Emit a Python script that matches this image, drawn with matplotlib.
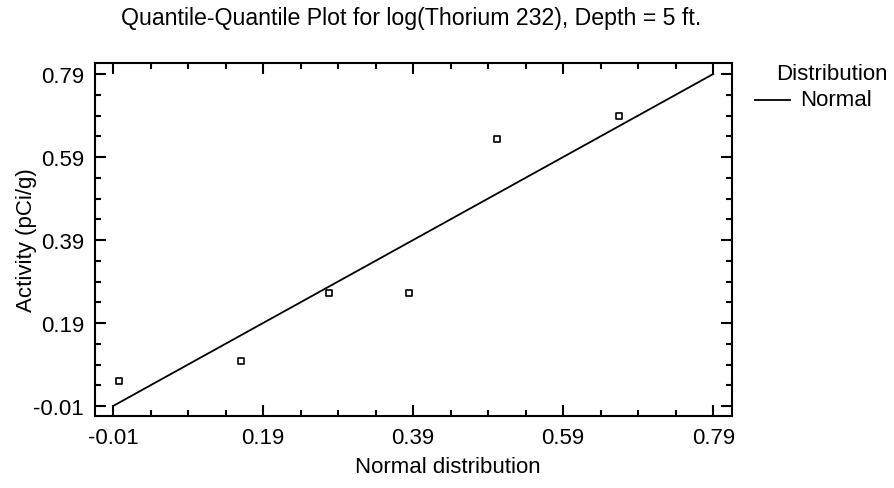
import matplotlib
matplotlib.use("Agg")
import matplotlib.pyplot as plt
from matplotlib.ticker import FixedLocator

plt.rcParams['font.family'] = ['Liberation Sans', 'DejaVu Sans']

x_quantiles = [-0.002, 0.161, 0.278, 0.385, 0.502, 0.665]
y_activity = [0.050, 0.098, 0.262, 0.262, 0.633, 0.689]
line_x = [-0.01, 0.79]
line_y = [-0.01, 0.79]
ticks = [-0.01, 0.19, 0.39, 0.59, 0.79]
tick_labels = ["-0.01", "0.19", "0.39", "0.59", "0.79"]

W, H = 895, 489
fig = plt.figure(figsize=(W/100, H/100), dpi=100)
ax = fig.add_axes([95/W, 1-417/H, (732-95)/W, (417-64)/H])

ax.plot(line_x, line_y, color='black', lw=1.3)
ax.scatter(x_quantiles, y_activity, marker='s', s=14, facecolors='white',
           edgecolors='black', linewidths=1.2, zorder=3)

ax.set_xlim(-0.034, 0.815)
ax.set_ylim(-0.034, 0.8165)
ax.set_xticks(ticks)
ax.set_xticklabels(tick_labels)
ax.set_yticks(ticks)
ax.set_yticklabels(tick_labels)
minor = [t + d for t in [-0.01, 0.19, 0.39, 0.59] for d in (0.05, 0.10, 0.15)]
ax.xaxis.set_minor_locator(FixedLocator(minor))
ax.yaxis.set_minor_locator(FixedLocator(minor))
ax.tick_params(which='both', direction='in', top=True, right=True, width=1.5,
               labelsize=16, pad=8)
ax.tick_params(which='major', length=8)
ax.tick_params(which='minor', length=4)
for s in ax.spines.values():
    s.set_linewidth(1.5)

fig.text(448/W, 1-468/H, "Normal distribution", ha='center', va='center', fontsize=16)
fig.text(27/W, 1-(64+417)/2/H, "Activity (pCi/g)", ha='center', va='center',
         rotation=90, fontsize=16)
fig.text(411/W, 1-18/H, "Quantile-Quantile Plot for log(Thorium 232), Depth = 5 ft.",
         ha='center', va='center', fontsize=16.7)

fig.text(832/W, 1-75/H, "Distribution", ha='center', va='center', fontsize=16)
fig.lines.append(plt.Line2D([755/W, 790/W], [1-101/H, 1-101/H], color='black',
                            lw=1.3, transform=fig.transFigure))
fig.text(800/W, 1-101/H, "Normal", ha='left', va='center', fontsize=16)

fig.savefig("out.png", dpi=100)
